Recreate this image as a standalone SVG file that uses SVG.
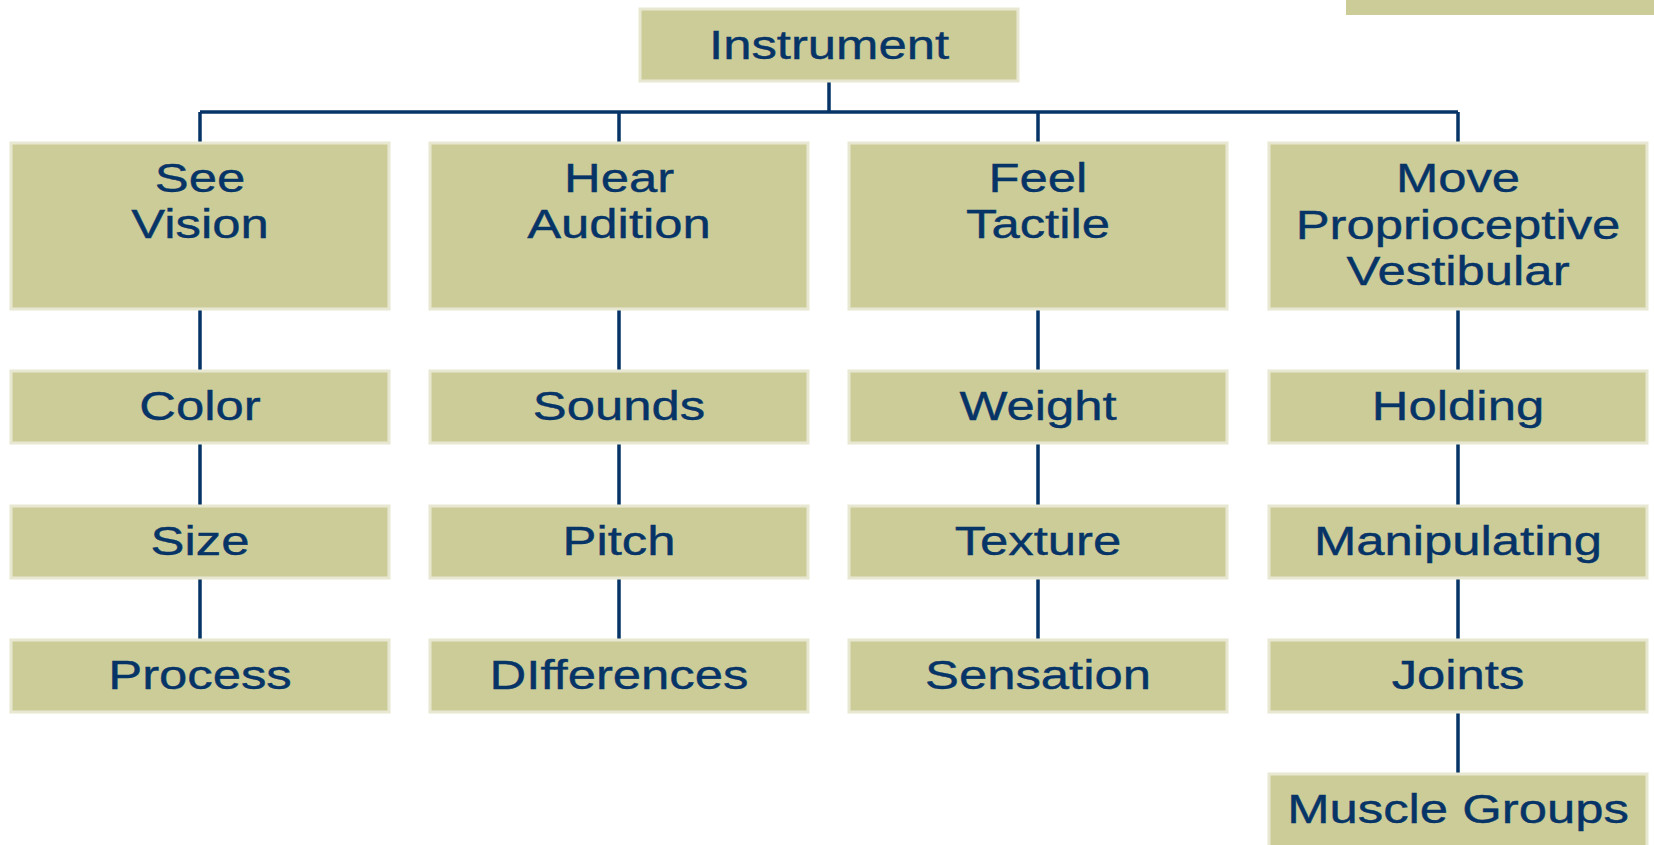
<svg xmlns="http://www.w3.org/2000/svg" width="1654" height="845" viewBox="0 0 1654 845">
<style>
.box{fill:#cccc99;stroke:#e8e8d2;stroke-width:3}
.lbl{font-family:"Liberation Sans",Arial,sans-serif;font-size:40px;fill:#063467;stroke:#063467;stroke-width:0.4;text-anchor:middle}
.ln{stroke:#063467;stroke-width:3.5;fill:none}
</style>
<rect x="0" y="0" width="1654" height="845" fill="#ffffff"/>
<g id="connectors">
<path class="ln" d="M829,81V112M200,112H1458M200,112V143M619,112V143M1038,112V143M1458,112V143"/>
<path class="ln" d="M200,309V371M200,443V506M200,578V640"/>
<path class="ln" d="M619,309V371M619,443V506M619,578V640"/>
<path class="ln" d="M1038,309V371M1038,443V506M1038,578V640"/>
<path class="ln" d="M1458,309V371M1458,443V506M1458,578V640M1458,712V774"/>
</g>
<g id="corner"><rect x="1346" y="-5" width="310" height="20" fill="#cccc99"/></g>
<g id="instrument"><rect class="box" x="640" y="9" width="378" height="72"/><text class="lbl" transform="translate(829,59) scale(1.27,1)">Instrument</text></g>
<g id="see"><rect class="box" x="11" y="143" width="378" height="166"/><text class="lbl" transform="translate(200,192) scale(1.27,1)">See</text><text class="lbl" transform="translate(200,238) scale(1.27,1)">Vision</text></g>
<g id="hear"><rect class="box" x="430" y="143" width="378" height="166"/><text class="lbl" transform="translate(619,192) scale(1.27,1)">Hear</text><text class="lbl" transform="translate(619,238) scale(1.27,1)">Audition</text></g>
<g id="feel"><rect class="box" x="849" y="143" width="378" height="166"/><text class="lbl" transform="translate(1038,192) scale(1.27,1)">Feel</text><text class="lbl" transform="translate(1038,238) scale(1.27,1)">Tactile</text></g>
<g id="move"><rect class="box" x="1269" y="143" width="378" height="166"/><text class="lbl" transform="translate(1458,192) scale(1.27,1)">Move</text><text class="lbl" transform="translate(1458,239) scale(1.27,1)">Proprioceptive</text><text class="lbl" transform="translate(1458,285) scale(1.27,1)">Vestibular</text></g>
<g id="color"><rect class="box" x="11" y="371" width="378" height="72"/><text class="lbl" transform="translate(200,420) scale(1.27,1)">Color</text></g>
<g id="size"><rect class="box" x="11" y="506" width="378" height="72"/><text class="lbl" transform="translate(200,555) scale(1.27,1)">Size</text></g>
<g id="process"><rect class="box" x="11" y="640" width="378" height="72"/><text class="lbl" transform="translate(200,689) scale(1.27,1)">Process</text></g>
<g id="sounds"><rect class="box" x="430" y="371" width="378" height="72"/><text class="lbl" transform="translate(619,420) scale(1.27,1)">Sounds</text></g>
<g id="pitch"><rect class="box" x="430" y="506" width="378" height="72"/><text class="lbl" transform="translate(619,555) scale(1.27,1)">Pitch</text></g>
<g id="differences"><rect class="box" x="430" y="640" width="378" height="72"/><text class="lbl" transform="translate(619,689) scale(1.27,1)">DIfferences</text></g>
<g id="weight"><rect class="box" x="849" y="371" width="378" height="72"/><text class="lbl" transform="translate(1038,420) scale(1.27,1)">Weight</text></g>
<g id="texture"><rect class="box" x="849" y="506" width="378" height="72"/><text class="lbl" transform="translate(1038,555) scale(1.27,1)">Texture</text></g>
<g id="sensation"><rect class="box" x="849" y="640" width="378" height="72"/><text class="lbl" transform="translate(1038,689) scale(1.27,1)">Sensation</text></g>
<g id="holding"><rect class="box" x="1269" y="371" width="378" height="72"/><text class="lbl" transform="translate(1458,420) scale(1.27,1)">Holding</text></g>
<g id="manipulating"><rect class="box" x="1269" y="506" width="378" height="72"/><text class="lbl" transform="translate(1458,555) scale(1.27,1)">Manipulating</text></g>
<g id="joints"><rect class="box" x="1269" y="640" width="378" height="72"/><text class="lbl" transform="translate(1458,689) scale(1.27,1)">Joints</text></g>
<g id="muscle"><rect class="box" x="1269" y="774" width="378" height="80"/><text class="lbl" transform="translate(1458,823) scale(1.27,1)">Muscle Groups</text></g>
</svg>
